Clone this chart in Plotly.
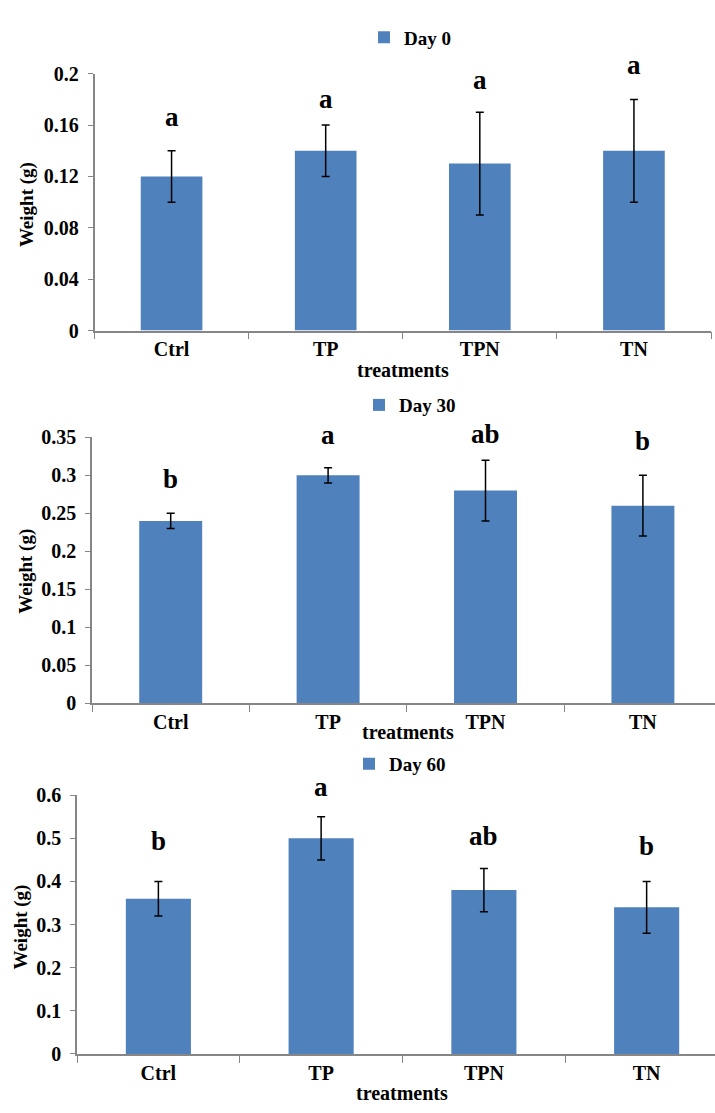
import plotly.graph_objects as go

categories = ["Ctrl", "TP", "TPN", "TN"]

day0_mean = [0.12, 0.14, 0.13, 0.14]
day0_err = [0.02, 0.02, 0.04, 0.04]
day0_letters = ["a", "a", "a", "a"]
day0_letter_y = [0.166, 0.18, 0.195, 0.207]

day30_mean = [0.24, 0.30, 0.28, 0.26]
day30_err = [0.01, 0.01, 0.04, 0.04]
day30_letters = ["b", "a", "ab", "b"]
day30_letter_y = [0.295, 0.353, 0.355, 0.345]

day60_mean = [0.36, 0.50, 0.38, 0.34]
day60_err = [0.04, 0.05, 0.05, 0.06]
day60_letters = ["b", "a", "ab", "b"]
day60_letter_y = [0.494, 0.618, 0.506, 0.483]

series_names = ["Day 0", "Day 30", "Day 60"]
y_tick_step = [0.04, 0.05, 0.1]
y_max = [0.2, 0.35, 0.6]

W, H = 715, 1113
FONT = "Liberation Serif, Times New Roman, serif"
BAR = "#4F81BD"
AXIS = "#868686"

def px(x):
    return x / W

def py(y):
    return 1 - y / H

panels = [
    dict(left=94.5, right=711, top=64, bottom=326, xend=3.5,
         legend=(410, 27), ytitle=(27, 198), xtitle=(403, 366)),
    dict(left=92, right=715, top=435, bottom=706, xend=3.458,
         legend=(410, 402), ytitle=(26, 572), xtitle=(408, 736)),
    dict(left=77, right=715, top=800, bottom=1064, xend=3.42,
         legend=(400, 768), ytitle=(21, 935), xtitle=(402, 1104)),
]

means = [day0_mean, day30_mean, day60_mean]
errs = [day0_err, day30_err, day60_err]
letters = [day0_letters, day30_letters, day60_letters]
letter_ys = [day0_letter_y, day30_letter_y, day60_letter_y]

fig = go.Figure()
annotations = []
layout = dict(
    width=W, height=H,
    margin=dict(l=0, r=0, t=0, b=0),
    paper_bgcolor="white", plot_bgcolor="white",
    font=dict(family=FONT, size=20, color="black"),
    bargap=0.6,
)

def bold(s):
    return "<b>" + s + "</b>"

for i, p in enumerate(panels):
    k = "" if i == 0 else str(i + 1)
    xa, ya = "x" + k, "y" + k
    leg = "legend" + k
    dom = [py(p["bottom"]), py(p["top"])]
    fig.add_trace(go.Bar(
        x=categories, y=means[i], name=bold(series_names[i]),
        marker=dict(color=BAR, line=dict(width=0)),
        error_y=dict(type="data", array=errs[i], visible=True,
                     color="black", thickness=1.5, width=4),
        xaxis=xa, yaxis=ya, legend=leg, showlegend=True,
    ))
    layout["xaxis" + k] = dict(
        domain=[px(p["left"]), px(p["right"])], anchor=ya,
        range=[-0.5, p["xend"]], type="category",
        tickmode="array", tickvals=categories,
        ticktext=[bold(c) for c in categories],
        showline=True, linecolor=AXIS, linewidth=1.5,
        ticks="outside", tickson="boundaries", ticklen=7, tickcolor=AXIS,
        tickfont=dict(family=FONT, size=20, color="black"),
        showgrid=False, zeroline=False, fixedrange=True,
    )
    nt = int(round(y_max[i] / y_tick_step[i]))
    tv = [round(j * y_tick_step[i], 4) for j in range(nt + 1)]
    layout["yaxis" + k] = dict(
        domain=dom, anchor=xa,
        range=[0, y_max[i]], tickmode="array", tickvals=tv,
        ticktext=[bold(("%g" % v)) for v in tv],
        showline=True, linecolor=AXIS, linewidth=1.5,
        ticks="outside", ticklen=5, tickcolor=AXIS,
        ticklabelstandoff=5,
        tickfont=dict(family=FONT, size=20, color="black"),
        showgrid=False, zeroline=False, fixedrange=True,
    )
    lx, ly = p["legend"]
    layout[leg] = dict(
        x=px(lx), y=py(ly), xanchor="center", yanchor="middle",
        orientation="h", bgcolor="rgba(0,0,0,0)",
        font=dict(family=FONT, size=19, color="black"),
        itemwidth=30,
    )
    for c, t, ly_ in zip(categories, letters[i], letter_ys[i]):
        yp = dom[0] + ly_ / y_max[i] * (dom[1] - dom[0])
        annotations.append(dict(
            x=c, y=yp, xref=xa, yref="paper", text=bold(t), showarrow=False,
            font=dict(family=FONT, size=27, color="black"),
            xanchor="center", yanchor="middle",
        ))
    tx, ty = p["ytitle"]
    annotations.append(dict(
        x=px(tx), y=py(ty), xref="paper", yref="paper", text=bold("Weight (g)"),
        textangle=-90, showarrow=False,
        font=dict(family=FONT, size=19, color="black"),
        xanchor="center", yanchor="middle",
    ))
    gx, gy = p["xtitle"]
    annotations.append(dict(
        x=px(gx), y=py(gy), xref="paper", yref="paper", text=bold("treatments"),
        showarrow=False,
        font=dict(family=FONT, size=20, color="black"),
        xanchor="center", yanchor="middle",
    ))

layout["annotations"] = annotations
fig.update_layout(**layout)
fig.write_html("out.html")
